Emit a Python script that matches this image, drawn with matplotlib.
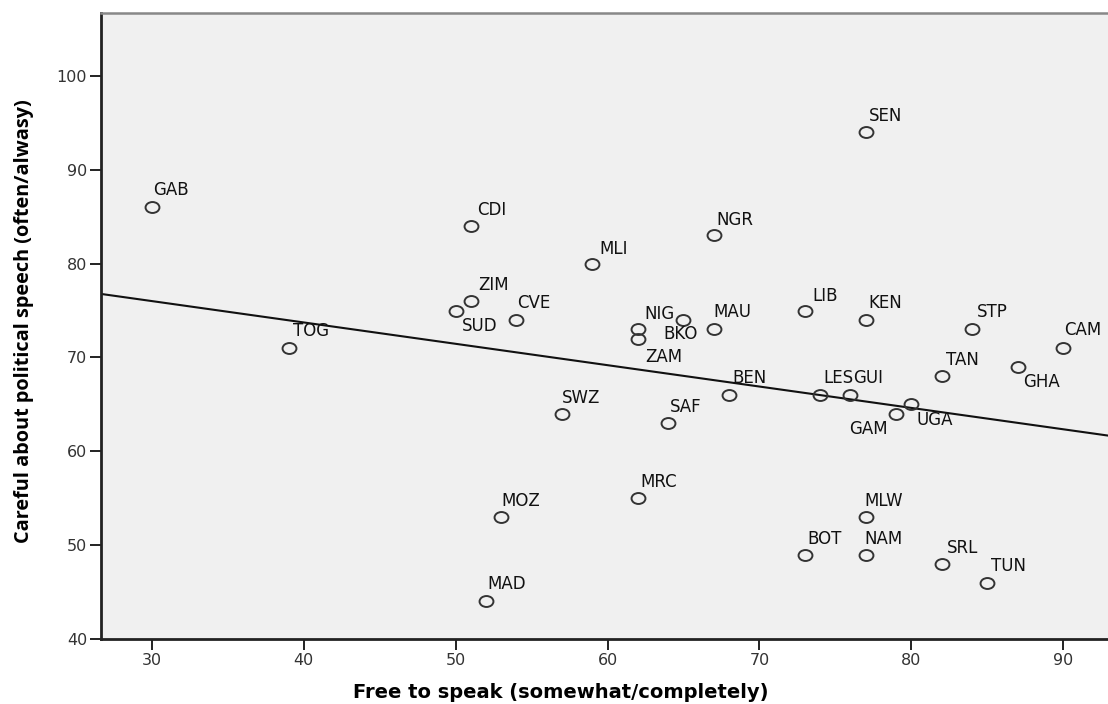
import numpy as np
import matplotlib
matplotlib.use("Agg")
import matplotlib.pyplot as plt
from matplotlib.path import Path
from matplotlib.transforms import Affine2D

# ---- data ----
countries = ["GAB", "TOG", "SUD", "CDI", "ZIM", "MAD", "MOZ", "CVE", "SWZ", "MLI",
             "NIG", "ZAM", "MRC", "SAF", "BKO", "NGR", "MAU", "BEN", "LIB", "BOT",
             "LES", "GUI", "SEN", "KEN", "MLW", "NAM", "GAM", "UGA", "TAN", "SRL",
             "STP", "TUN", "GHA", "CAM"]
free_to_speak = [30, 39, 50, 51, 51, 52, 53, 54, 57, 59,
                 62, 62, 62, 64, 65, 67, 67, 68, 73, 73,
                 74, 76, 77, 77, 77, 77, 79, 80, 82, 82,
                 84, 85, 87, 90]
careful_speech = [86, 71, 75, 84, 76, 44, 53, 74, 64, 80,
                  73, 72, 55, 63, 74, 83, 73, 66, 75, 49,
                  66, 66, 94, 74, 53, 49, 64, 65, 68, 48,
                  73, 46, 69, 71]
x_ticks = [30, 40, 50, 60, 70, 80, 90]
y_ticks = [40, 50, 60, 70, 80, 90, 100]

# label offsets in pixels (dx, dy; dy positive = up), horizontal alignment
label_offsets = {
    "GAB": (1, 12, "left"), "TOG": (4, 12, "left"), "SUD": (6, -20, "left"),
    "CDI": (6, 11, "left"), "ZIM": (7, 11, "left"), "MAD": (1, 12, "left"),
    "MOZ": (0, 11, "left"), "CVE": (1, 12, "left"), "SWZ": (0, 11, "left"),
    "MLI": (7, 10, "left"), "NIG": (6, 10, "left"), "ZAM": (7, -23, "left"),
    "MRC": (2, 11, "left"), "SAF": (2, 11, "left"), "BKO": (-20, -19, "left"),
    "NGR": (3, 10, "left"), "MAU": (0, 12, "left"), "BEN": (3, 12, "left"),
    "LIB": (7, 10, "left"), "BOT": (2, 11, "left"), "LES": (3, 12, "left"),
    "GUI": (3, 12, "left"), "SEN": (3, 11, "left"), "KEN": (3, 12, "left"),
    "MLW": (-1, 11, "left"), "NAM": (-1, 11, "left"), "GAM": (-8, -20, "right"),
    "UGA": (5, -21, "left"), "TAN": (4, 11, "left"), "SRL": (5, 11, "left"),
    "STP": (5, 12, "left"), "TUN": (4, 12, "left"), "GHA": (6, -20, "left"),
    "CAM": (1, 13, "left"),
}

W, H = 1108, 704
fig = plt.figure(figsize=(W / 100, H / 100), dpi=100)
fig.patch.set_facecolor("white")
ax = fig.add_axes([101 / W, 65 / H, (W - 101) / W, (639 - 13) / H])
ax.set_facecolor("#f0f0f0")

xlim = (26.64, 92.96)
ylim = (40, 106.7)
ax.set_xlim(*xlim)
ax.set_ylim(*ylim)

# ellipse marker (wider than tall)
circ = Path.unit_circle()
ell = circ.transformed(Affine2D().scale(1.27, 1.0))

x = np.array(free_to_speak, dtype=float)
y = np.array(careful_speech, dtype=float)
ax.plot(x, y, linestyle="none", marker=ell, markersize=10,
        markerfacecolor="none", markeredgecolor="#333333", markeredgewidth=1.4,
        zorder=3)

# fit line
slope, intercept = np.polyfit(x, y, 1)
xx = np.array(xlim)
ax.plot(xx, slope * xx + intercept, color="#111111", linewidth=1.5, zorder=2)

for c, xi, yi in zip(countries, free_to_speak, careful_speech):
    dx, dy, ha = label_offsets[c]
    ax.annotate(c, (xi, yi), xytext=(dx, dy), textcoords="offset pixels",
                ha=ha, va="baseline", fontsize=12, family="DejaVu Sans",
                color="#111111", zorder=4)

ax.set_xticks(x_ticks)
ax.set_yticks(y_ticks)
ax.tick_params(axis="both", direction="out", length=8, width=1.4,
               color="#222222", labelsize=11.5, labelcolor="#333333", pad=2)

for s in ["left", "bottom"]:
    ax.spines[s].set_linewidth(2)
    ax.spines[s].set_color("#222222")
ax.spines["top"].set_linewidth(1.8)
ax.spines["top"].set_color("#888888")
ax.spines["right"].set_visible(False)

ax.set_xlabel("Free to speak (somewhat/completely)", fontsize=14,
              fontweight="bold", family="DejaVu Sans", color="#000000")
ax.xaxis.set_label_coords((561 - 101) / (W - 101), -(692 - 639) / 626)
ax.xaxis.label.set_va("center")
ax.set_ylabel("Careful about political speech (often/alwasy)", fontsize=14.3,
              fontweight="bold", family="Open Sans", color="#000000")
ax.yaxis.set_label_coords((24 - 101) / (W - 101), (639 - 321) / 626)
ax.yaxis.label.set_va("center")

fig.savefig("out.png", dpi=100, facecolor="white")
